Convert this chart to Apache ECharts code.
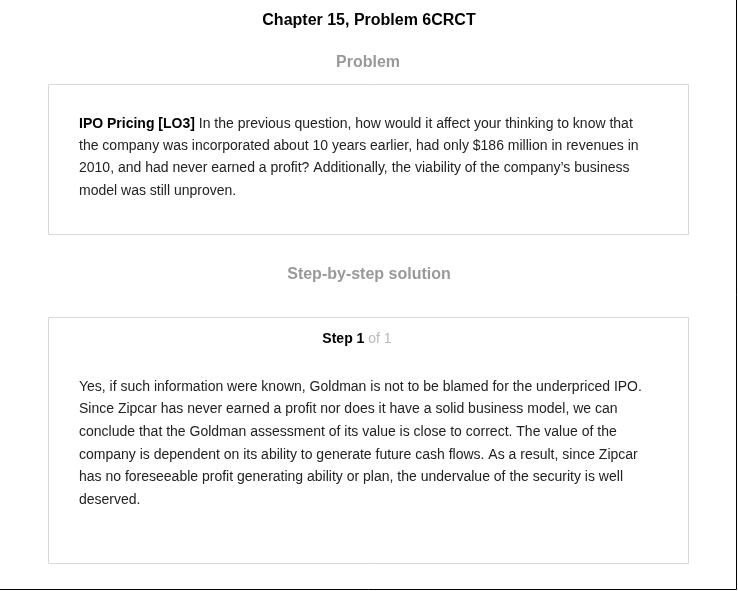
<!DOCTYPE html>
<html>
<head>
<meta charset="utf-8">
<script src="https://cdn.jsdelivr.net/npm/echarts@6/dist/echarts.min.js"></script>
<style>html,body{margin:0;padding:0;background:#fff}#main{width:738px;height:591px}</style>
</head>
<body>
<div id="main"></div>
<script>
var pageTitle = 'Chapter 15, Problem 6CRCT';
var sectionTitles = ['Problem', 'Step-by-step solution'];
var problemLead = 'IPO Pricing [LO3]';
var problemLines = [
    ' In the previous question, how would it affect your thinking to know that',
    'the company was incorporated about 10 years earlier, had only $186 million in revenues in',
    '2010, and had never earned a profit? Additionally, the viability of the company\u2019s business',
    'model was still unproven.'
];
var stepLabel = ['Step 1', ' of 1'];
var solutionLines = [
    'Yes, if such information were known, Goldman is not to be blamed for the underpriced IPO.',
    'Since Zipcar has never earned a profit nor does it have a solid business model, we can',
    'conclude that the Goldman assessment of its value is close to correct. The value of the',
    'company is dependent on its ability to generate future cash flows. As a result, since Zipcar',
    'has no foreseeable profit generating ability or plan, the undervalue of the security is well',
    'deserved.'
];

var font = 'Liberation Sans, Arial, sans-serif';
var els = [];
function txt(x, y, text, opt) {
    els.push({
        type: 'text', x: x, y: y,
        style: Object.assign({ text: text, font: '14px ' + font, fill: '#222', textVerticalAlign: 'middle' }, opt || {})
    });
}
// page frame (right and bottom edge)
els.push({ type: 'line', shape: { x1: 736.5, y1: 0, x2: 736.5, y2: 589.5 }, style: { stroke: '#000', lineWidth: 1 } });
els.push({ type: 'line', shape: { x1: 0, y1: 589.5, x2: 736.5, y2: 589.5 }, style: { stroke: '#000', lineWidth: 1 } });
// boxes
els.push({ type: 'rect', shape: { x: 48.5, y: 84.5, width: 640, height: 150 }, style: { fill: '#fff', stroke: '#d8d8d8' } });
els.push({ type: 'rect', shape: { x: 48.5, y: 317.5, width: 640, height: 246 }, style: { fill: '#fff', stroke: '#d8d8d8' } });

txt(369, 21, pageTitle, { font: 'bold 16px ' + font, fill: '#000', textAlign: 'center' });
txt(368, 63, sectionTitles[0], { font: 'bold 16px ' + font, fill: '#999', textAlign: 'center' });
txt(369, 275, sectionTitles[1], { font: 'bold 16px ' + font, fill: '#999', textAlign: 'center' });

problemLines.forEach(function (l, i) {
    if (i === 0) {
        txt(79, 124, '{b|' + problemLead + '}{n|' + l + '}', {
            rich: { b: { font: 'bold 14px ' + font, fill: '#000' }, n: { font: '14px ' + font, fill: '#222' } }
        });
    } else {
        txt(79, 124 + i * 22.3, l);
    }
});
txt(357, 339, '{b|' + stepLabel[0] + '}{g|' + stepLabel[1] + '}', {
    textAlign: 'center',
    rich: { b: { font: 'bold 14px ' + font, fill: '#000' }, g: { font: '14px ' + font, fill: '#bbb' } }
});
solutionLines.forEach(function (l, i) {
    txt(79, 387 + i * 22.6, l);
});

var chart = echarts.init(document.getElementById('main'));
chart.setOption({ backgroundColor: '#fff', graphic: { elements: els } });
</script>
</body>
</html>
